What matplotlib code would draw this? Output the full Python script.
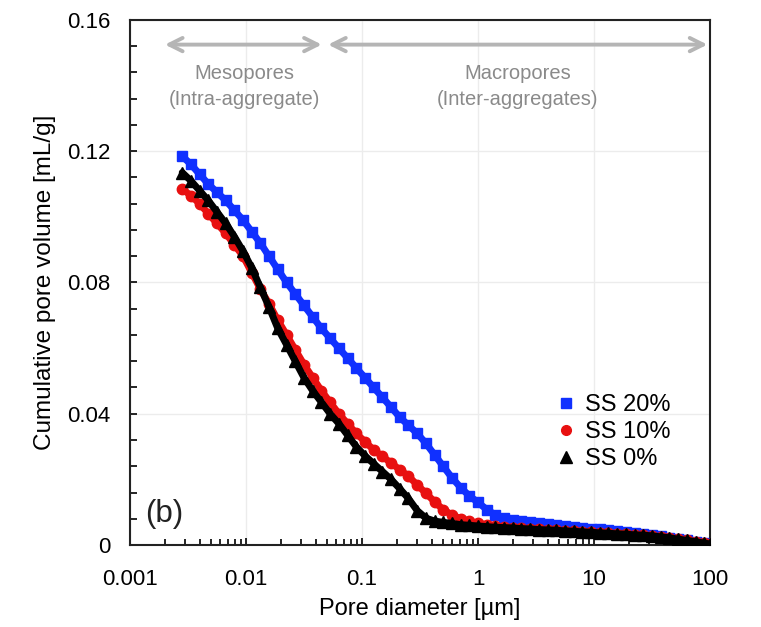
import matplotlib
matplotlib.use("Agg")
import matplotlib.pyplot as plt
from matplotlib.lines import Line2D
from matplotlib.ticker import FixedLocator, MultipleLocator, LogLocator, NullFormatter

plt.rcParams['font.family'] = ['Liberation Sans', 'DejaVu Sans']

# Pore diameter [um]
diameter = [0.00282, 0.00335, 0.00398, 0.00473, 0.00562, 0.00668, 0.00794, 0.00944,
            0.0112, 0.0133, 0.0158, 0.0188, 0.0224, 0.0266, 0.0316, 0.0376, 0.0447,
            0.0531, 0.0631, 0.0750, 0.0891, 0.106, 0.126, 0.150, 0.178, 0.211, 0.251,
            0.299, 0.355, 0.422, 0.501, 0.596, 0.708, 0.841, 1.0, 1.19, 1.41, 1.68,
            2.0, 2.37, 2.82, 3.35, 3.98, 4.73, 5.62, 6.68, 7.94, 9.44, 11.2, 13.3,
            15.8, 18.8, 22.4, 26.6, 31.6, 37.6, 44.7, 53.1, 63.1, 75.0, 89.1, 100.0]

ss20 = [0.1185, 0.116, 0.113, 0.110, 0.1075, 0.105, 0.102, 0.099,
        0.0955, 0.092, 0.088, 0.084, 0.080, 0.0765, 0.073, 0.0695, 0.066,
        0.063, 0.060, 0.057, 0.054, 0.051, 0.048, 0.045, 0.042, 0.039, 0.0365,
        0.034, 0.031, 0.0275, 0.024, 0.0205, 0.0175, 0.015, 0.013, 0.0108, 0.0092, 0.0082,
        0.0076, 0.0072, 0.0069, 0.0066, 0.0063, 0.0060, 0.0057, 0.0055, 0.0053, 0.0050, 0.0048, 0.0045,
        0.0042, 0.0040, 0.0037, 0.0034, 0.0030, 0.0026, 0.0022, 0.0018, 0.0014, 0.0010, 0.0006, 0.0003]

ss10 = [0.1085, 0.1065, 0.104, 0.101, 0.098, 0.095, 0.0915, 0.088,
        0.083, 0.078, 0.0735, 0.0685, 0.064, 0.0595, 0.055, 0.051, 0.047,
        0.0435, 0.040, 0.037, 0.034, 0.0315, 0.029, 0.027, 0.025, 0.023, 0.021,
        0.0183, 0.0158, 0.0132, 0.0108, 0.0092, 0.0080, 0.0072, 0.0066, 0.0062, 0.0058, 0.0055,
        0.0053, 0.0051, 0.0050, 0.0048, 0.0047, 0.0045, 0.0044, 0.0042, 0.0041, 0.0039, 0.0038, 0.0036,
        0.0035, 0.0033, 0.0032, 0.0030, 0.0028, 0.0025, 0.0022, 0.0018, 0.0014, 0.0010, 0.0006, 0.0003]

ss0 = [0.1135, 0.111, 0.108, 0.105, 0.1015, 0.098, 0.094, 0.0895,
       0.0845, 0.0785, 0.0725, 0.066, 0.061, 0.056, 0.051, 0.047, 0.0435,
       0.040, 0.037, 0.0335, 0.030, 0.0272, 0.0248, 0.0224, 0.020, 0.0172, 0.0142,
       0.0105, 0.0082, 0.0073, 0.0069, 0.0066, 0.0062, 0.0060, 0.0058, 0.0056, 0.0054, 0.0053,
       0.0052, 0.0050, 0.0049, 0.0047, 0.0046, 0.0045, 0.0043, 0.0042, 0.0040, 0.0039, 0.0037, 0.0036,
       0.0034, 0.0033, 0.0031, 0.0030, 0.0028, 0.0025, 0.0022, 0.0018, 0.0014, 0.0010, 0.0006, 0.0003]

series_labels = ['SS 20%', 'SS 10%', 'SS 0%']
x_ticks = [0.001, 0.01, 0.1, 1, 10, 100]
x_tick_labels = ['0.001', '0.01', '0.1', '1', '10', '100']
y_ticks = [0, 0.04, 0.08, 0.12, 0.16]
y_tick_labels = ['0', '0.04', '0.08', '0.12', '0.16']

fig = plt.figure(figsize=(7.61, 6.27), dpi=100)
ax = fig.add_axes([130/761, 1-545/627, 580/761, 525/627])

styles = [dict(color='#1030ff', marker='s', ms=7.2),
          dict(color='#e81010', marker='o', ms=7.5),
          dict(color='#000000', marker='^', ms=8.5)]
for yv, st in zip([ss20, ss10, ss0], styles):
    ax.plot(diameter, yv, color=st['color'], lw=5.0, marker=st['marker'],
            ms=st['ms'], mec=st['color'], mfc=st['color'], zorder=3,
            solid_capstyle='round')

ax.set_xscale('log')
ax.set_xlim(0.001, 100)
ax.set_ylim(0, 0.16)

ax.xaxis.set_major_locator(FixedLocator(x_ticks))
ax.set_xticklabels(x_tick_labels)
ax.xaxis.set_minor_locator(LogLocator(base=10, subs=range(2, 10)))
ax.xaxis.set_minor_formatter(NullFormatter())
ax.yaxis.set_major_locator(FixedLocator(y_ticks))
ax.set_yticklabels(y_tick_labels)
ax.yaxis.set_minor_locator(MultipleLocator(0.008))

ax.tick_params(which='both', direction='in', top=False, right=False, width=1.2)
ax.tick_params(which='major', length=5)
ax.tick_params(which='minor', length=4)
ax.tick_params(axis='x', which='major', labelsize=16, pad=17)
ax.tick_params(axis='y', which='major', labelsize=16, pad=14)
ax.tick_params(axis='y', which='minor', length=5)

ax.grid(True, which='major', color='#ececec', lw=1.0, zorder=0)
for s in ax.spines.values():
    s.set_linewidth(1.5)
    s.set_color('#222222')

ax.set_xlabel('Pore diameter [µm]', fontsize=17, labelpad=6)
ax.set_ylabel('Cumulative pore volume [mL/g]', fontsize=17.5, labelpad=8)

# region arrows
arrow_kw = dict(arrowstyle='<->', color='#b5b5b5', lw=2.8, mutation_scale=24, shrinkA=0, shrinkB=0)
ax.annotate('', xy=(0.002, 0.1525), xytext=(0.045, 0.1525), arrowprops=arrow_kw)
ax.annotate('', xy=(0.051, 0.1525), xytext=(95, 0.1525), arrowprops=arrow_kw)
ax.text(0.0096, 0.1465, 'Mesopores\n(Intra-aggregate)', ha='center', va='top',
        fontsize=14.5, color='#8a8a8a', linespacing=1.45)
ax.text(2.2, 0.1465, 'Macropores\n(Inter-aggregates)', ha='center', va='top',
        fontsize=14.5, color='#8a8a8a', linespacing=1.45)

ax.text(0.00135, 0.0095, '(b)', fontsize=22.5, color='#222222', ha='left', va='center')

handles = [Line2D([], [], ls='none', marker=st['marker'], color=st['color'],
                  ms=st['ms'] - 0.5) for st in styles]
ax.legend(handles, series_labels, loc='upper left', bbox_to_anchor=(0.735, 0.288),
          frameon=False, fontsize=17, handlelength=0.8, handletextpad=0.4,
          labelspacing=0.22, borderpad=0, borderaxespad=0)

fig.savefig('out.png', dpi=100)
